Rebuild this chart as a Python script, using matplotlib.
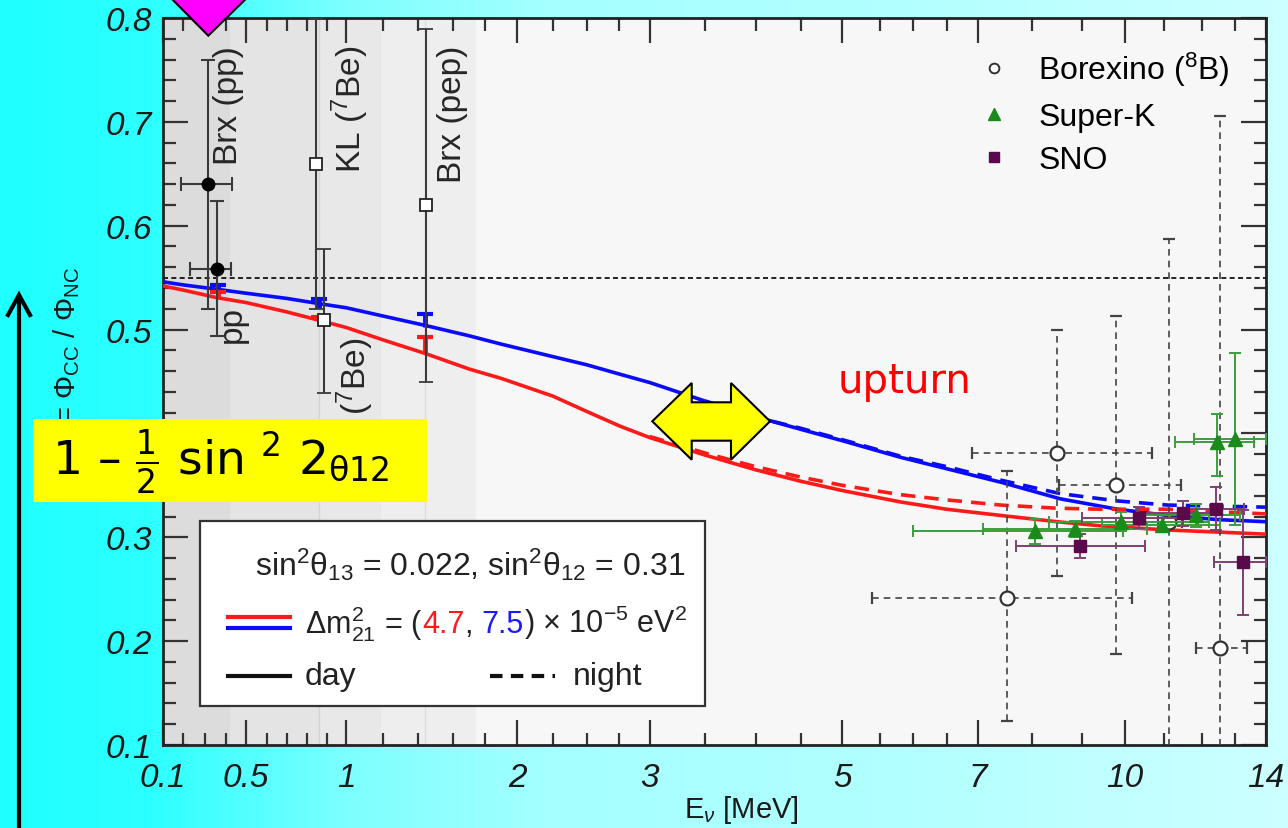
import numpy as np
import matplotlib
matplotlib.use("Agg")
import matplotlib.pyplot as plt
from matplotlib.patches import Polygon, Rectangle
from matplotlib.lines import Line2D
from matplotlib.offsetbox import TextArea, HPacker, AnnotationBbox

# ---------------- data ----------------
# theory curves (day / night) for the two mass splittings
E_blue_day = [0.1, 0.2, 0.35, 0.5, 0.7, 0.86, 1.0, 1.2, 1.44, 1.7, 1.9, 2.25, 2.5, 2.76, 3.0,
              3.5, 4.17, 4.5, 5.0, 5.81, 6.5, 7.42, 8.57, 9.83, 11.1, 12.5, 14.0]
R_blue_day = [0.546, 0.543, 0.539, 0.535, 0.530, 0.525, 0.521, 0.513, 0.504, 0.494, 0.486, 0.474,
              0.466, 0.457, 0.449, 0.431, 0.412, 0.404, 0.393, 0.377, 0.366, 0.353, 0.337, 0.327,
              0.321, 0.317, 0.315]
E_blue_night = [3.5, 4.17, 4.5, 5.0, 5.81, 6.5, 7.42, 8.57, 9.83, 11.1, 12.5, 14.0]
R_blue_night = [0.431, 0.412, 0.405, 0.394, 0.378, 0.368, 0.355, 0.342, 0.335, 0.331, 0.330, 0.329]
E_red_day = [0.1, 0.2, 0.35, 0.5, 0.7, 0.86, 1.0, 1.2, 1.44, 1.7, 1.9, 2.25, 2.5, 2.76, 3.0,
             3.5, 4.0, 4.5, 5.0, 5.81, 6.5, 7.42, 8.5, 9.45, 11.1, 12.5, 14.0]
R_red_day = [0.542, 0.538, 0.531, 0.526, 0.517, 0.509, 0.502, 0.490, 0.477, 0.462, 0.453, 0.436,
             0.421, 0.407, 0.396, 0.379, 0.365, 0.354, 0.345, 0.334, 0.327, 0.321, 0.315, 0.311,
             0.307, 0.305, 0.303]
E_red_night = [3.0, 3.5, 4.0, 4.5, 5.0, 5.81, 6.5, 7.42, 8.5, 9.45, 11.1, 14.0]
R_red_night = [0.397, 0.381, 0.368, 0.358, 0.350, 0.341, 0.336, 0.331, 0.328, 0.327, 0.327, 0.3225]

# theory markers at pp / 7Be / pep energies
TH_E = [0.36, 0.86, 1.44]
TH_BLUE_HI = [0.543, 0.529, 0.515]
TH_BLUE_LO = [0.536, 0.521, 0.502]
TH_RED_HI = [0.536, 0.512, 0.493]
TH_RED_LO = [0.529, 0.505, 0.476]

# Borexino pp (filled circles)
E_pp = [0.313, 0.355]
R_pp = [0.640, 0.558]
R_pp_lo = [0.120, 0.064]
R_pp_hi = [0.120, 0.066]
E_pp_lo = [0.123, 0.122]
E_pp_hi = [0.115, 0.068]

# KL 7Be, 7Be, Brx pep (open squares)
E_sq = [0.845, 0.887, 1.446]
R_sq = [0.659, 0.509, 0.620]
R_sq_lo = [0.139, 0.070, 0.170]
R_sq_hi = [0.141, 0.069, 0.169]

# Borexino 8B
E_b8 = [7.54, 8.50, 9.79, 11.13, 12.55]
R_b8 = [0.242, 0.381, 0.350, 0.315, 0.193]
R_b8_lo = [0.119, 0.118, 0.162, 0.272, 0.150]
R_b8_hi = [0.122, 0.119, 0.163, 0.272, 0.513]
E_b8_lo = [2.15, 1.60, 1.25, 0.30, 0.70]
E_b8_hi = [2.64, 2.20, 1.66, 0.35, 0.83]

# Super-K
E_sk = [8.06, 8.86, 9.92, 10.94, 11.85, 12.47, 13.0]
R_sk = [0.306, 0.308, 0.315, 0.312, 0.321, 0.392, 0.395]
R_sk_lo = [0.012, 0.008, 0.009, 0.007, 0.011, 0.033, 0.083]
R_sk_hi = [0.012, 0.008, 0.009, 0.007, 0.011, 0.027, 0.082]
E_sk_lo = [2.06, 1.76, 1.59, 1.46, 1.50, 1.19, 1.20]
E_sk_hi = [1.90, 1.70, 2.28, 1.60, 1.30, 1.13, 1.00]

# SNO
E_sno = [8.96, 10.36, 11.5, 12.43, 13.25]
R_sno = [0.292, 0.319, 0.323, 0.327, 0.276]
R_sno_lo = [0.012, 0.010, 0.012, 0.020, 0.051]
R_sno_hi = [0.011, 0.010, 0.012, 0.021, 0.050]
E_sno_lo = [1.27, 1.36, 1.20, 0.93, 0.90]
E_sno_hi = [1.54, 1.54, 1.10, 0.85, 0.75]

R_ref = 0.55

X_MAJOR = [0.1, 0.5, 1, 2, 3, 5, 7, 10, 14]
X_MAJOR_LABELS = ["0.1", "0.5", "1", "2", "3", "5", "7", "10", "14"]
X_MINOR = [0.2, 0.3, 0.4, 0.6, 0.7, 0.8, 0.9, 1.2, 1.4, 1.6, 1.8, 2.25, 2.5, 2.75,
           3.5, 4, 4.5, 5.5, 6, 6.5, 8, 9, 11, 12, 13]
Y_MAJOR = [0.1, 0.2, 0.3, 0.4, 0.5, 0.6, 0.7, 0.8]
# the 0.4 label is hidden behind the yellow formula box in the reference
Y_MAJOR_LABELS = ["0.1", "0.2", "0.3", "", "0.5", "0.6", "0.7", "0.8"]

# ---------------- axis scale (linear below 1 MeV, log-like above) ----------------
SCALE_E = np.array([0.1, 0.2, 0.3, 0.4, 0.5, 0.6, 0.7, 0.8, 0.9, 1.0, 1.2, 1.4, 1.6, 1.8, 2.0,
                    2.25, 2.5, 2.75, 3.0, 3.5, 4.0, 4.5, 5.0, 5.5, 6.0, 6.5, 7.0, 8, 9, 10,
                    11, 12, 13, 14])
SCALE_POS = np.array([163, 183.3, 205, 226, 246, 266.7, 286.7, 306.7, 326.7, 346, 383, 418,
                      452.7, 485, 516.7, 552.3, 586.7, 618.3, 649.3, 705, 755, 800, 841.7,
                      879.3, 912.5, 946, 977.3, 1031.7, 1080.7, 1124, 1163.3, 1201, 1234, 1265])


def fwd(x):
    x = np.asarray(x, dtype=float)
    lo = SCALE_POS[0] + (x - SCALE_E[0]) * (SCALE_POS[1] - SCALE_POS[0]) / (SCALE_E[1] - SCALE_E[0])
    hi = SCALE_POS[-1] + (x - SCALE_E[-1]) * (SCALE_POS[-1] - SCALE_POS[-2]) / (SCALE_E[-1] - SCALE_E[-2])
    mid = np.interp(x, SCALE_E, SCALE_POS)
    return np.where(x < SCALE_E[0], lo, np.where(x > SCALE_E[-1], hi, mid))


def inv(p):
    p = np.asarray(p, dtype=float)
    lo = SCALE_E[0] + (p - SCALE_POS[0]) * (SCALE_E[1] - SCALE_E[0]) / (SCALE_POS[1] - SCALE_POS[0])
    hi = SCALE_E[-1] + (p - SCALE_POS[-1]) * (SCALE_E[-1] - SCALE_E[-2]) / (SCALE_POS[-1] - SCALE_POS[-2])
    mid = np.interp(p, SCALE_POS, SCALE_E)
    return np.where(p < SCALE_POS[0], lo, np.where(p > SCALE_POS[-1], hi, mid))


# ---------------- styling ----------------
W, H = 1288, 829
plt.rcParams['font.family'] = ['Liberation Sans', 'DejaVu Sans']
plt.rcParams['mathtext.fontset'] = 'custom'
plt.rcParams['mathtext.rm'] = 'Liberation Sans'
plt.rcParams['mathtext.it'] = 'Liberation Sans:italic'
plt.rcParams['mathtext.bf'] = 'Liberation Sans:bold'
plt.rcParams['mathtext.sf'] = 'Liberation Sans'


def P(x, y):
    return (x / W, 1 - y / H)


fig = plt.figure(figsize=(W / 100, H / 100), dpi=100)

# gradient background
bg = fig.add_axes([0, 0, 1, 1], zorder=-10)
xs = np.linspace(0, W, 500)
rch = np.interp(xs, [0, 150, 350, 550, 900, 1288], [30, 45, 125, 165, 178, 205]) / 255
img = np.ones((2, xs.size, 3))
img[..., 0] = rch
bg.imshow(img, aspect='auto', extent=[0, 1, 0, 1])
bg.axis('off')

ax = fig.add_axes([163 / W, 1 - 746 / H, (1266 - 163) / W, (746 - 19) / H], zorder=1)
ax.set_xscale('function', functions=(fwd, inv))
ax.set_xlim(0.1, 14)
ax.set_ylim(0.1, 0.8)
ax.set_facecolor('#f7f7f7')

# shaded energy bands
ax.axvspan(0.1, 0.42, color='#dcdcdc', lw=0, zorder=0)
ax.axvspan(0.42, 0.86, color='#e4e4e4', lw=0, zorder=0)
ax.axvspan(0.86, 1.19, color='#e8e8e8', lw=0, zorder=0)
ax.axvspan(1.19, 1.74, color='#eeeeee', lw=0, zorder=0)
ax.axvline(0.86, color='#d4d4d4', lw=1, zorder=0.5)
ax.axvline(1.44, color='#dedede', lw=1, zorder=0.5)

ax.axhline(R_ref, color='k', lw=1.2, ls=(0, (3, 2)), zorder=2)

# curves
ax.plot(E_blue_day, R_blue_day, color='#0a0aff', lw=2.6, zorder=3, solid_joinstyle='round')
ax.plot(E_red_day, R_red_day, color='#ff1a1a', lw=2.6, zorder=3, solid_joinstyle='round')
ax.plot(E_blue_night, R_blue_night, color='#0a0aff', lw=2.6, ls=(0, (4, 2.5)), zorder=3)
ax.plot(E_red_night, R_red_night, color='#ff1a1a', lw=2.6, ls=(0, (4, 2.5)), zorder=3)

ax.vlines(TH_E, TH_BLUE_LO, TH_BLUE_HI, color='#0a0aff', lw=3.5, zorder=3)
ax.vlines(TH_E, TH_RED_LO, TH_RED_HI, color='#ff1a1a', lw=3.5, zorder=3)
ax.plot(TH_E, TH_BLUE_HI, ls='none', marker='_', ms=12, mew=3, color='#0a0aff', zorder=3)
ax.plot(TH_E, TH_RED_HI, ls='none', marker='_', ms=12, mew=3, color='#ff1a1a', zorder=3)

# low-energy data
ax.errorbar(E_pp, R_pp, yerr=[R_pp_lo, R_pp_hi], xerr=[E_pp_lo, E_pp_hi], fmt='o', ms=9,
            mfc='k', mec='k', ecolor='#3a3a3a', elinewidth=1.5, capsize=5, capthick=1.5, zorder=5)
ax.errorbar(E_sq, R_sq, yerr=[R_sq_lo, R_sq_hi], fmt='s', ms=8, mfc='white', mec='#222',
            mew=1.3, ecolor='#3a3a3a', elinewidth=1.5, capsize=5, capthick=1.5, zorder=5)

# Borexino 8B
eb = ax.errorbar(E_b8, R_b8, yerr=[R_b8_lo, R_b8_hi], xerr=[E_b8_lo, E_b8_hi], fmt='o', ms=10,
                 mfc='white', mec='#333', mew=1.6, ecolor='#444', elinewidth=1.2, capsize=4,
                 capthick=1.2, zorder=4)
for c in eb[2]:
    c.set_linestyle((0, (4, 3)))

# Super-K
ax.errorbar(E_sk, R_sk, yerr=[R_sk_lo, R_sk_hi], xerr=[E_sk_lo, E_sk_hi], fmt='^', ms=10,
            color='#1a8a1a', ecolor='#3c9c3c', elinewidth=1.4, capsize=4, capthick=1.4, zorder=5)
# SNO
ax.errorbar(E_sno, R_sno, yerr=[R_sno_lo, R_sno_hi], xerr=[E_sno_lo, E_sno_hi], fmt='s', ms=9,
            color='#5a0a4a', ecolor='#804070', elinewidth=1.4, capsize=4, capthick=1.4, zorder=5)

# ticks
ax.set_xticks(X_MAJOR)
ax.set_xticklabels(X_MAJOR_LABELS)
ax.set_xticks(X_MINOR, minor=True)
ax.set_xticklabels([], minor=True)
ax.set_yticks(Y_MAJOR)
ax.set_yticklabels(Y_MAJOR_LABELS)
ax.set_yticks(np.round(np.arange(0.12, 0.8, 0.02), 2), minor=True)
ax.tick_params(which='both', direction='in', top=True, right=True, width=1.6, color='#333')
ax.tick_params(which='major', length=18)
ax.tick_params(which='minor', length=9)
ax.tick_params(axis='x', which='major', pad=12, labelsize=24, labelcolor='#1a1a1a')
ax.tick_params(axis='y', which='major', pad=8, labelsize=24, labelcolor='#1a1a1a')
for lab in ax.get_xticklabels() + ax.get_yticklabels():
    lab.set_fontstyle('italic')
for s in ax.spines.values():
    s.set_linewidth(2)
    s.set_color('#222')

# rotated labels inside plot
lbl = dict(rotation=90, ha='center', va='top', fontsize=24, color='#262626', zorder=6)
ax.text(0.413, 0.774, 'Brx (pp)', **lbl)
ax.text(1.02, 0.774, r'KL ($^7$Be)', **lbl)
ax.text(1.60, 0.774, 'Brx (pep)', **lbl)
ax.text(0.433, 0.524, 'pp', **lbl)
ax.text(1.05, 0.493, r'($^7$Be)', **lbl)

# legend upper right
handles = [Line2D([], [], marker='o', ls='none', mfc='white', mec='#333', ms=7, mew=1.4),
           Line2D([], [], marker='^', ls='none', color='#1a8a1a', ms=9),
           Line2D([], [], marker='s', ls='none', color='#5a0a4a', ms=7)]
ax.legend(handles, [r'Borexino ($^8$B)', 'Super-K', 'SNO'], loc='upper right',
          bbox_to_anchor=P(1230, 51), bbox_transform=fig.transFigure, frameon=False,
          fontsize=23, handletextpad=0.9, labelspacing=0.42, borderaxespad=0, borderpad=0,
          handlelength=1.0)

# legend box lower left
fig.add_artist(Rectangle(P(200, 707), 505 / W, 185 / H, transform=fig.transFigure,
                         fc='white', ec='#333', lw=1.6, zorder=5))
fig.text(*P(470, 565), r'sin$^2$θ$_{13}$ = 0.022, sin$^2$θ$_{12}$ = 0.31', ha='center',
         va='center', fontsize=23, color='#222', zorder=6)
fig.add_artist(Line2D([228 / W, 290 / W], [1 - 618 / H] * 2, color='#ff1a1a', lw=3, zorder=6))
fig.add_artist(Line2D([228 / W, 290 / W], [1 - 629 / H] * 2, color='#0a0aff', lw=3, zorder=6))
tp = dict(fontsize=22, color='#222')
parts = [TextArea(r'$\Delta\mathrm{m}^2_{21}$ = (', textprops=tp),
         TextArea('4.7', textprops=dict(tp, color='#ff1a1a')),
         TextArea(', ', textprops=tp),
         TextArea('7.5', textprops=dict(tp, color='#1a1aff')),
         TextArea(r') × 10$^{-5}$ eV$^2$', textprops=tp)]
hp = HPacker(children=parts, align='baseline', pad=0, sep=0)
ab = AnnotationBbox(hp, P(305, 624), xycoords='figure fraction', box_alignment=(0, 0.5),
                    frameon=False, zorder=6)
fig.add_artist(ab)
fig.add_artist(Line2D([228 / W, 290 / W], [1 - 677 / H] * 2, color='#111', lw=3, zorder=6))
fig.add_artist(Line2D([490 / W, 555 / W], [1 - 677 / H] * 2, color='#111', lw=3,
                      ls=(0, (3, 2)), zorder=6))
fig.text(*P(305, 677), 'day', ha='left', va='center', fontsize=23, color='#222', zorder=6)
fig.text(*P(573, 677), 'night', ha='left', va='center', fontsize=23, color='#222', zorder=6)

# axis labels (the start of the y label is hidden behind the yellow box in the reference)
fig.text(*P(741, 810), r'E$_\nu$ [MeV]', ha='center', va='center', fontsize=21, color='#1a1a1a')
fig.text(*P(67, 267), r'= Φ$_{\rm CC}$ / Φ$_{\rm NC}$', rotation=90, ha='center', va='top',
         fontsize=21, color='#1a1a1a', zorder=2)

# annotations
fig.add_artist(Rectangle(P(33, 503), (427 - 33) / W, (503 - 420) / H, transform=fig.transFigure,
                         fc='#ffff00', ec='none', zorder=8))
fig.text(*P(52, 462), r'1 – $\frac{1}{2}$ sin $^2$ 2$_{\mathrm{\theta 12}}$', ha='left', va='center',
         fontsize=34, family='DejaVu Sans', math_fontfamily='dejavusans', color='k', zorder=9)
fig.text(*P(838, 382), 'upturn', ha='left', va='center', fontsize=29, family='DejaVu Sans',
         color='#ff0000', zorder=9)

tri = [P(160, -12), P(258, -12), P(208.3, 36.7)]
fig.add_artist(Polygon(tri, closed=True, transform=fig.transFigure, fc='#ff00ff', ec='k',
                       lw=1.5, zorder=10))
arrow_pts = [(652.3, 422.3), (691.7, 384), (691.7, 403.3), (731, 403.3), (731, 384),
             (770, 422.3), (731, 460.7), (731, 441.7), (691.7, 441.7), (691.7, 460.7)]
fig.add_artist(Polygon([P(x, y) for x, y in arrow_pts], closed=True, transform=fig.transFigure,
                       fc='#ffff00', ec='k', lw=1.5, zorder=10))

fig.add_artist(Line2D([19 / W, 19 / W], [0, 1 - 297 / H], color='k', lw=3, zorder=10))
fig.add_artist(Line2D([8 / W, 19 / W, 30 / W], [1 - 316 / H, 1 - 296 / H, 1 - 316 / H],
                      color='k', lw=3, zorder=10, solid_joinstyle='miter'))

fig.savefig('out.png', dpi=100)
